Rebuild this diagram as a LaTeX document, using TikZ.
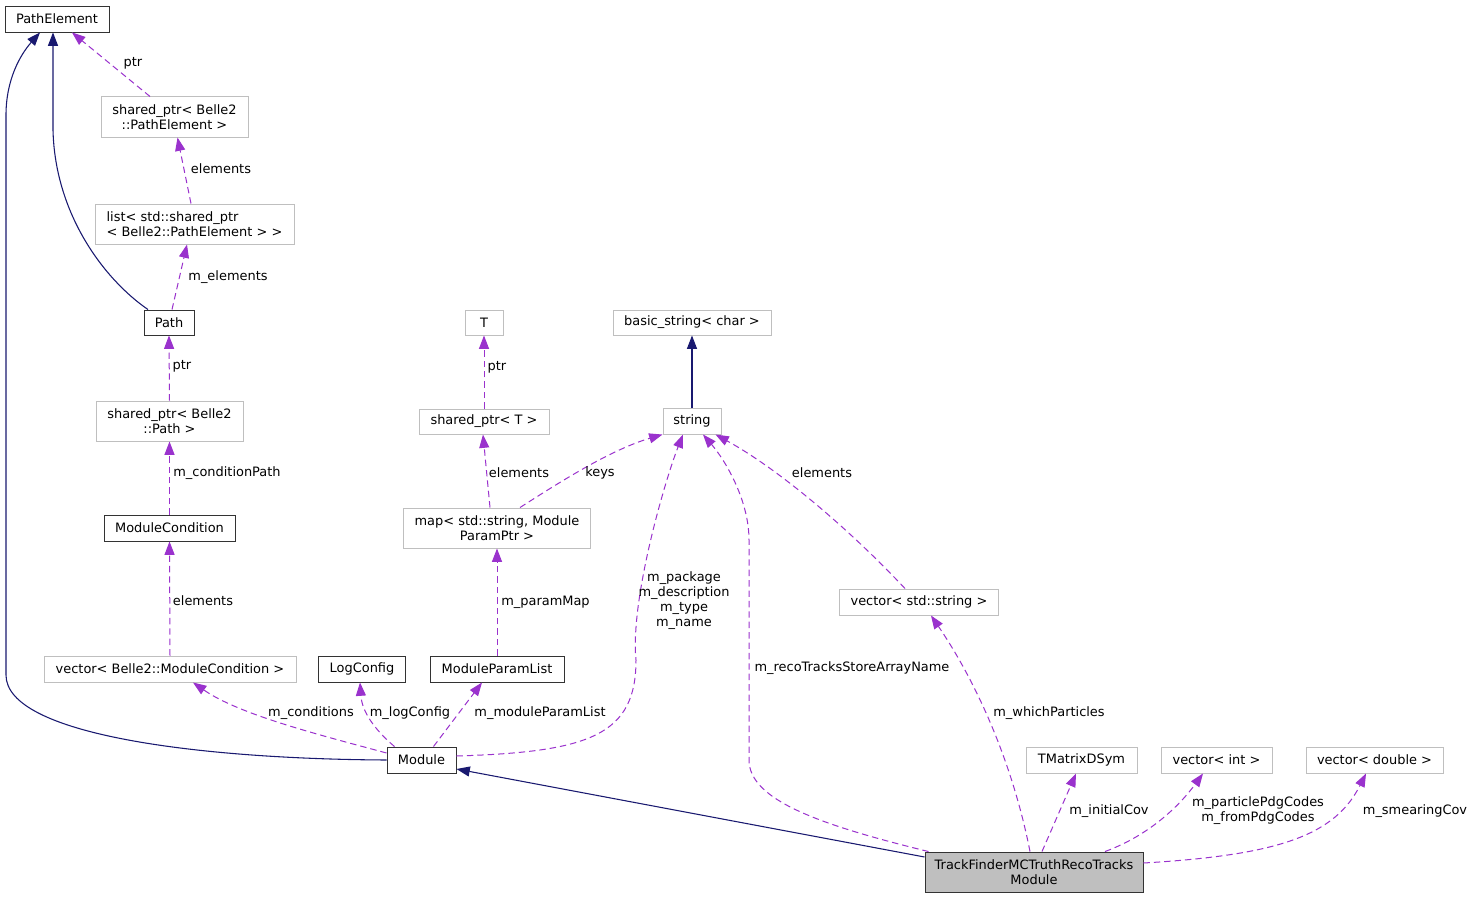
\documentclass[tikz,border=0pt]{standalone}
\usepackage{fontspec}
\setmainfont{DejaVu Sans}
\usetikzlibrary{arrows.meta,calc}
\definecolor{navy}{HTML}{191970}
\definecolor{depc}{HTML}{9A32CD}
\definecolor{gborder}{HTML}{BFBFBF}
\definecolor{tffill}{HTML}{BFBFBF}
\newcommand{\dfont}{\fontsize{9.7}{11.2}\selectfont}
\tikzset{
  box/.style={draw, rectangle, inner sep=0pt, align=center, font=\dfont, text=black},
  gbox/.style={box, draw=gborder, line width=0.75pt},
  bbox/.style={box, draw=black!80, line width=0.7pt},
  sz/.style 2 args={minimum width=#1*0.75pt, minimum height=#2*0.75pt},
  dep/.style={draw=depc, dash pattern=on 4.8pt off 3pt, line width=0.75pt, -{Triangle[length=10pt,width=7.5pt]}},
  inh/.style={draw=navy, line width=0.8pt, -{Triangle[length=10pt,width=7.5pt]}},
  lbl/.style={font=\dfont, inner sep=0pt, align=center, text=black},
}
\begin{document}
\begin{tikzpicture}[x=0.75pt,y=-0.75pt]
\fill[white] (0,0) rectangle (1475,899);
\useasboundingbox (0,0) rectangle (1475,899);

% nodes
\node[bbox,sz={104}{26}] (pe) at (57,19) {PathElement};
\node[gbox,sz={147}{40}] (spe) at (174.5,117) {shared\_ptr< Belle2\\::PathElement >};
\node[gbox,sz={199}{40},align=left] (lst) at (194.5,224) {list< std::shared\_ptr\\< Belle2::PathElement > >};
\node[bbox,sz={50}{25}] (path) at (169,322.5) {Path};
\node[gbox,sz={147}{40}] (spp) at (169.5,421) {shared\_ptr< Belle2\\::Path >};
\node[bbox,sz={131}{26}] (mc) at (169.5,528) {ModuleCondition};
\node[gbox,sz={252}{26}] (vmc) at (170,669) {vector< Belle2::ModuleCondition >};
\node[bbox,sz={87}{26}] (logc) at (362,669) {LogConfig};
\node[bbox,sz={134}{26}] (mpl) at (497,669) {ModuleParamList};
\node[bbox,sz={69}{26}] (mod) at (421.5,760) {Module};
\node[gbox,sz={38}{25}] (T) at (484,322.5) {T};
\node[gbox,sz={130}{25}] (spt) at (484,421.5) {shared\_ptr< T >};
\node[gbox,sz={187}{40}] (map) at (497,528) {map< std::string, Module\\ParamPtr >};
\node[gbox,sz={158}{25}] (bstr) at (692,322.5) {basic\_string< char >};
\node[gbox,sz={58}{26}] (str) at (692,421) {string};
\node[gbox,sz={159}{26}] (vstr) at (919,602) {vector< std::string >};
\node[gbox,sz={111}{26}] (tmat) at (1081.5,760) {TMatrixDSym};
\node[gbox,sz={111}{26}] (vint) at (1216.5,760) {vector< int >};
\node[gbox,sz={137}{26}] (vdbl) at (1374.5,760) {vector< double >};
\node[bbox,fill=tffill,sz={218}{40}] (tf) at (1034,872) {TrackFinderMCTruthRecoTracks\\Module};

% inheritance edges
\draw[inh] (mod.west) .. controls (200,759) and (6,735) .. (6,675) -- (6,115)
  .. controls (6,80) and (20,55) .. ($(pe.south)+(-17,0)$);
\draw[inh] ($(path.north)+(-21,0)$) .. controls (105,280) and (55,215) .. (53,130)
  -- ($(pe.south)+(-4,0)$);
\draw[inh] (str.north) -- (bstr.south);
\draw[inh] ($(tf.west)+(0,-15)$) -- ($(mod.east)+(0,9)$);

% usage edges
\draw[dep] ($(spe.north)+(-24.5,0)$) -- ($(pe.south)+(15,0)$);
\node[lbl] (l1) at (133,63) {ptr};
\draw[dep] ($(lst.north)+(-3.5,0)$) -- ($(spe.south)+(3,0)$);
\node[lbl] (l2) at (221,169) {elements};
\draw[dep] ($(path.north)+(3,0)$) -- ($(lst.south)+(-7.5,0)$);
\node[lbl] (l3) at (228,277) {m\_elements};
\draw[dep] (spp.north) -- (path.south);
\node[lbl] (l4) at (182,366) {ptr};
\draw[dep] (mc.north) -- (spp.south);
\node[lbl] (l5) at (227,473) {m\_conditionPath};
\draw[dep] (vmc.north) -- (mc.south);
\node[lbl] (l6) at (203,601) {elements};
\draw[dep] ($(mod.west)+(0,-7)$) .. controls (320,735) and (240,715) .. ($(vmc.south)+(23,0)$);
\node[lbl] (l7) at (311,713) {m\_conditions};
\draw[dep] ($(mod.north)+(-27,0)$) .. controls (375,730) and (362,712) .. ($(logc.south)+(-2,0)$);
\node[lbl] (l8) at (410,713) {m\_logConfig};
\draw[dep] ($(mod.north)+(12,0)$) -- ($(mpl.south)+(-15,0)$);
\node[lbl] (l9) at (540,713) {m\_moduleParamList};
\draw[dep] (mpl.north) -- (map.south);
\node[lbl] (l10) at (545.5,602) {m\_paramMap};
\draw[dep] ($(map.north)+(-7,0)$) -- ($(spt.south)+(-1,0)$);
\node[lbl] (l11) at (519,473) {elements};
\draw[dep] (spt.north) -- (T.south);
\node[lbl] (l12) at (497,367) {ptr};
\draw[dep] ($(map.north)+(23,0)$) .. controls (560,482) and (610,450) .. (str.south west);
\node[lbl] (l13) at (600,473) {keys};
\draw[dep] ($(mod.east)+(0,-4)$) .. controls (590,752) and (636,735) .. (636,660)
  .. controls (630,600) and (665,480) .. ($(str.south)+(-9,0)$);
\node[lbl] (l14) at (684,601) {m\_package\\m\_description\\m\_type\\m\_name};
\draw[dep] ($(tf.north west)+(4,0)$) .. controls (820,825) and (749,800) .. (749,760) -- (749,540)
  .. controls (749,500) and (725,460) .. ($(str.south)+(11,0)$);
\node[lbl] (l15) at (852,668) {m\_recoTracksStoreArrayName};
\draw[dep] ($(vstr.north)+(-14,0)$) .. controls (850,530) and (780,470) .. ($(str.south east)+(-6,0)$);
\node[lbl] (l16) at (822,473) {elements};
\draw[dep] ($(tf.north)+(-4,0)$) .. controls (1012,760) and (975,680) .. ($(vstr.south)+(12,0)$);
\node[lbl] (l17) at (1049,713) {m\_whichParticles};
\draw[dep] ($(tf.north)+(8,0)$) -- ($(tmat.south)+(-5.5,0)$);
\node[lbl] (l18) at (1109,811) {m\_initialCov};
\draw[dep] ($(tf.north)+(71,0)$) .. controls (1150,835) and (1180,805) .. ($(vint.south)+(-13.5,0)$);
\node[lbl] (l19) at (1258,810.5) {m\_particlePdgCodes\\m\_fromPdgCodes};
\draw[dep] ($(tf.east)+(0,-9)$) .. controls (1280,855) and (1335,835) .. ($(vdbl.south)+(-8.5,0)$);
\node[lbl] (l20) at (1415,811) {m\_smearingCov};
\end{tikzpicture}
\end{document}
